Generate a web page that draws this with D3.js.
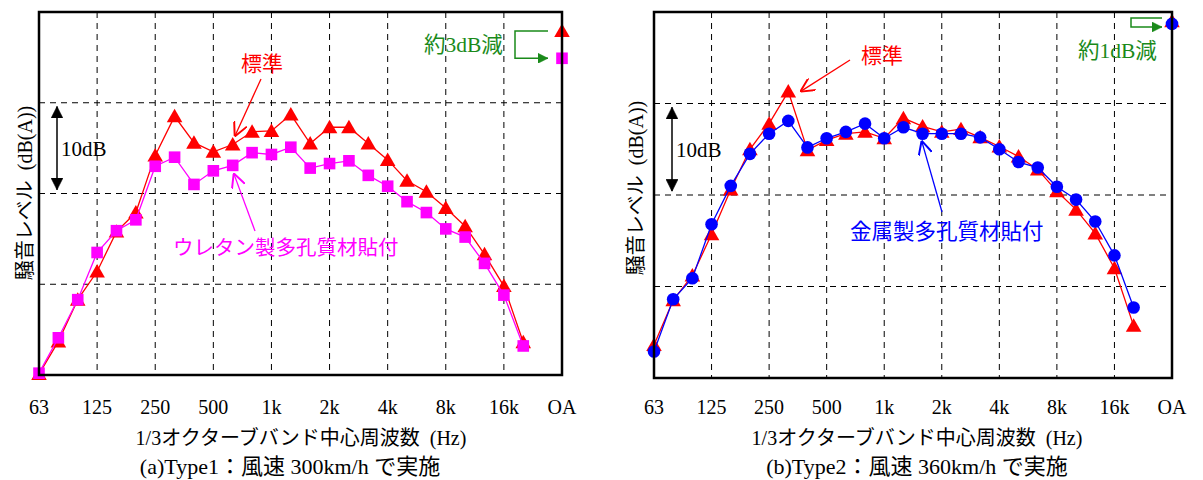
<!DOCTYPE html>
<html>
<head>
<meta charset="utf-8">
<script src="https://cdn.jsdelivr.net/npm/d3@7/dist/d3.min.js"></script>
<style>
  body { margin: 0; background: #fff; }
  svg { display: block; font-family: "Liberation Serif", "Noto Sans CJK JP", serif; }
</style>
</head>
<body>
<div id="grafico"></div>
<script>
// ==============================
// DATOS
// ==============================

// bandas 1/3 de octava (63 Hz .. 20 kHz) + OA
const bandas = ["63","80","100","125","160","200","250","315","400","500","630","800",
  "1k","1.25k","1.6k","2k","2.5k","3.15k","4k","5k","6.3k","8k","10k","12.5k","16k","20k","OA"];
const etiquetasX = ["63","125","250","500","1k","2k","4k","8k","16k","OA"];

// (a) Type1, 300km/h  (nivel relativo, dB)
const tipo1Estandar = [0.1,3.7,8.3,11.4,15.8,17.9,24.2,28.5,25.6,24.6,25.4,26.8,26.9,28.7,
  25.5,27.3,27.3,25.5,23.7,21.4,20.2,18.4,16.4,13.3,9.8,3.6,37.9];
const tipo1Uretano = [0.2,4.1,8.3,13.5,15.9,17.1,23.0,24.0,21.0,22.5,23.1,24.5,24.3,25.1,
  22.8,23.3,23.6,22.0,20.8,19.1,17.9,16.1,15.2,12.3,8.8,3.2,34.9];

// (b) Type2, 360km/h
const tipo2Estandar = [3.6,8.5,11.2,15.7,20.6,25.0,27.8,31.3,24.9,26.0,26.7,26.9,26.2,28.4,
  27.5,26.9,27.2,26.3,25.3,24.2,22.8,20.4,18.4,15.8,12.0,5.7,39.0];
const tipo2Metal = [2.9,8.6,10.9,16.8,21.0,24.5,26.7,28.1,25.2,26.2,26.9,27.8,26.2,27.4,
  26.7,26.7,26.7,26.3,25.0,23.6,23.0,20.9,19.5,17.1,13.4,7.7,38.7];

// ==============================
// SVG BASE
// ==============================

const W = 1203, H = 480;
const svg = d3.select("#grafico").append("svg").attr("width", W).attr("height", H);

const defs = svg.append("defs");
function flecha(id, color, abierta, tam) {
  defs.append("marker")
    .attr("id", id)
    .attr("viewBox", "0 0 10 10")
    .attr("refX", 10).attr("refY", 5)
    .attr("markerWidth", tam).attr("markerHeight", tam)
    .attr("markerUnits", "userSpaceOnUse")
    .attr("orient", "auto-start-reverse")
    .append("path")
    .attr("d", abierta ? "M0,0 L10,5 L0,10" : "M0,0 L10,5 L0,10 Z")
    .attr("fill", abierta ? "none" : color)
    .attr("stroke", color)
    .attr("stroke-width", abierta ? 1.4 : 0.5);
}
flecha("fl-rojo", "#ff0000", true, 14);
flecha("fl-magenta", "#ff00ff", true, 14);
flecha("fl-azul", "#0000ff", true, 14);
flecha("fl-negro", "#000", false, 12);
flecha("fl-verde", "#1a8a1a", false, 10);

const triangulo = d3.symbol().type(d3.symbolTriangle).size(105);
const cuadrado = d3.symbol().type(d3.symbolSquare).size(135);
const circulo = d3.symbol().type(d3.symbolCircle).size(125);

const posicion = i => (i < 26 ? i : 27);

// ==============================
// PANEL
// ==============================

function dibujarPanel(cfg) {
  const g = svg.append("g");
  const x = d3.scaleLinear().domain([0, 27]).range([cfg.x0, cfg.x1]);
  const y = d3.scaleLinear().domain([0, 40]).range([cfg.y1, cfg.y0]);

  // rejilla
  g.selectAll(".gv").data(d3.range(3, 27, 3)).join("line")
    .attr("x1", d => x(d)).attr("x2", d => x(d))
    .attr("y1", cfg.y0).attr("y2", cfg.y1)
    .attr("stroke", "#000").attr("stroke-width", 1).attr("stroke-dasharray", "6,5");
  g.selectAll(".gh").data([10, 20, 30]).join("line")
    .attr("x1", cfg.x0).attr("x2", cfg.x1)
    .attr("y1", d => y(d)).attr("y2", d => y(d))
    .attr("stroke", "#000").attr("stroke-width", 1).attr("stroke-dasharray", "6,5");

  // etiquetas eje x
  g.selectAll(".tx").data(etiquetasX).join("text")
    .attr("x", (d, i) => x(i * 3))
    .attr("y", 414)
    .attr("text-anchor", "middle")
    .attr("font-size", 20)
    .text(d => d);

  g.append("text")
    .attr("x", cfg.tituloX).attr("y", 445)
    .attr("text-anchor", "middle").attr("font-size", 20)
    .text("1/3オクターブバンド中心周波数\u00a0\u00a0(Hz)");

  g.append("text")
    .attr("x", cfg.pieX).attr("y", 474)
    .attr("text-anchor", "middle").attr("font-size", 22)
    .text(cfg.pie);

  g.append("text")
    .attr("transform", `translate(${cfg.tituloYx},${cfg.tituloYy}) rotate(-90)`)
    .attr("text-anchor", "middle").attr("dominant-baseline", "central")
    .attr("font-size", 20)
    .text("騒音レベル\u00a0\u00a0(dB(A))");

  // 10dB
  g.append("line")
    .attr("x1", cfg.x0 + 18).attr("x2", cfg.x0 + 18)
    .attr("y1", y(29.6)).attr("y2", y(20.4))
    .attr("stroke", "#000").attr("stroke-width", 1.5)
    .attr("marker-start", "url(#fl-negro)").attr("marker-end", "url(#fl-negro)");
  g.append("text")
    .attr("x", cfg.x0 + 22).attr("y", y(25) + 8)
    .attr("font-size", 21).text("10dB");

  // series
  cfg.series.forEach(s => {
    const linea = d3.line().x((d, i) => x(i)).y(d => y(d));
    g.append("path")
      .datum(s.valores.slice(0, 26))
      .attr("d", linea)
      .attr("fill", "none").attr("stroke", s.color).attr("stroke-width", 1.3);
    g.selectAll(null).data(s.valores).join("path")
      .attr("transform", (d, i) => `translate(${x(posicion(i))},${y(d) + (s.simbolo === triangulo ? 1.5 : 0)})`)
      .attr("d", s.simbolo)
      .attr("fill", s.color);
  });

  // marco
  g.append("rect")
    .attr("x", cfg.x0).attr("y", cfg.y0)
    .attr("width", cfg.x1 - cfg.x0).attr("height", cfg.y1 - cfg.y0)
    .attr("fill", "none").attr("stroke", "#000").attr("stroke-width", 2.5);

  return { g, x, y };
}

// ==============================
// (a) TYPE1
// ==============================

const a = dibujarPanel({
  x0: 39, x1: 562, y0: 12, y1: 375, tituloX: 301, pieX: 290, tituloYx: 25, tituloYy: 193,
  pie: "(a)Type1：風速 300km/h で実施",
  series: [
    { valores: tipo1Estandar, color: "#ff0000", simbolo: triangulo },
    { valores: tipo1Uretano, color: "#ff00ff", simbolo: cuadrado }
  ]
});

a.g.append("text").attr("x", 262).attr("y", 71)
  .attr("text-anchor", "middle").attr("font-size", 21).attr("fill", "#ff0000").text("標準");
a.g.append("line").attr("x1", 261).attr("y1", 79).attr("x2", a.x(10) + 2).attr("y2", a.y(tipo1Estandar[10]) - 8)
  .attr("stroke", "#ff0000").attr("stroke-width", 1.3).attr("marker-end", "url(#fl-rojo)");

a.g.append("text").attr("x", 173).attr("y", 255)
  .attr("font-size", 20.5).attr("fill", "#ff00ff").text("ウレタン製多孔質材貼付");
a.g.append("line").attr("x1", 255).attr("y1", 231).attr("x2", a.x(10) + 1).attr("y2", a.y(tipo1Uretano[10]) + 8)
  .attr("stroke", "#ff00ff").attr("stroke-width", 1.3).attr("marker-end", "url(#fl-magenta)");

a.g.append("text").attr("x", 424).attr("y", 52)
  .attr("font-size", 21.5).attr("fill", "#1a8a1a").text("約3dB減");
a.g.append("path")
  .attr("d", `M${a.x(27) - 14},${a.y(tipo1Estandar[26])} H515 V${a.y(tipo1Uretano[26])} H${a.x(27) - 14}`)
  .attr("fill", "none").attr("stroke", "#1a8a1a").attr("stroke-width", 1.5)
  .attr("marker-end", "url(#fl-verde)");

// ==============================
// (b) TYPE2
// ==============================

const b = dibujarPanel({
  x0: 654, x1: 1172, y0: 12, y1: 378, tituloX: 917, pieX: 917, tituloYx: 636, tituloYy: 188,
  pie: "(b)Type2：風速 360km/h で実施",
  series: [
    { valores: tipo2Estandar, color: "#ff0000", simbolo: triangulo },
    { valores: tipo2Metal, color: "#0000ff", simbolo: circulo }
  ]
});

b.g.append("text").attr("x", 882).attr("y", 63)
  .attr("text-anchor", "middle").attr("font-size", 21).attr("fill", "#ff0000").text("標準");
b.g.append("line").attr("x1", 850).attr("y1", 60).attr("x2", b.x(7) + 12).attr("y2", b.y(tipo2Estandar[7]))
  .attr("stroke", "#ff0000").attr("stroke-width", 1.3).attr("marker-end", "url(#fl-rojo)");

b.g.append("text").attr("x", 850).attr("y", 239)
  .attr("font-size", 21.5).attr("fill", "#0000ff").text("金属製多孔質材貼付");
b.g.append("line").attr("x1", 942).attr("y1", 212).attr("x2", b.x(14) - 1).attr("y2", b.y(tipo2Metal[14]) + 7)
  .attr("stroke", "#0000ff").attr("stroke-width", 1.3).attr("marker-end", "url(#fl-azul)");

b.g.append("text").attr("x", 1078).attr("y", 58)
  .attr("font-size", 21.5).attr("fill", "#1a8a1a").text("約1dB減");
b.g.append("path")
  .attr("d", `M${b.x(27) - 10},18 H1131 V27 H${b.x(27) - 10}`)
  .attr("fill", "none").attr("stroke", "#1a8a1a").attr("stroke-width", 1.5)
  .attr("marker-end", "url(#fl-verde)");
</script>
</body>
</html>
